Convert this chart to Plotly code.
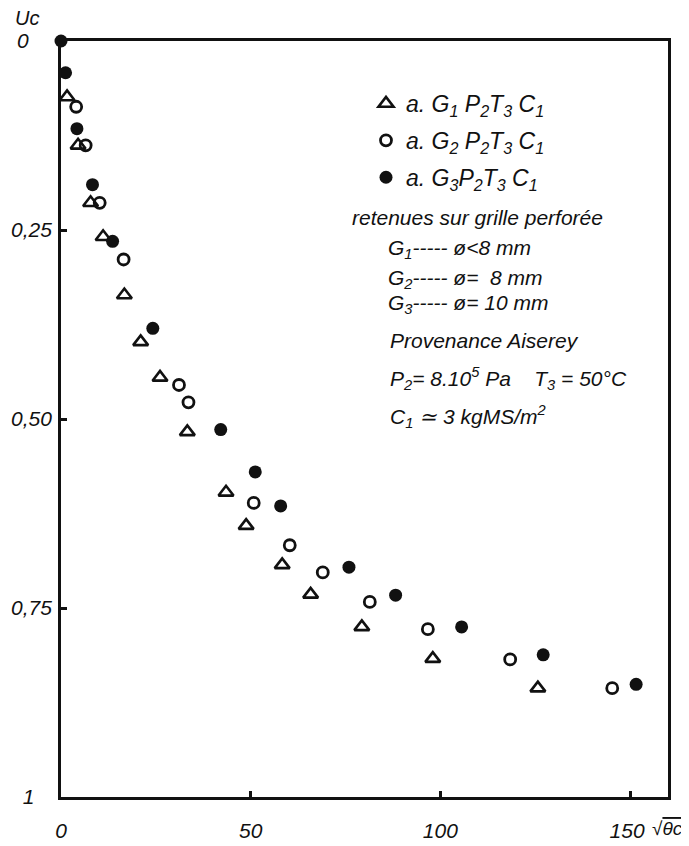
import plotly.graph_objects as go

# Data (x = sqrt(theta_c), y = Uc)
g1_x = [1.6, 4.5, 7.8, 11.1, 16.7, 21.0, 26.1, 33.3, 43.5, 48.8, 58.3, 65.8, 79.3, 98.0, 125.7]
g1_y = [0.074, 0.138, 0.214, 0.259, 0.336, 0.398, 0.445, 0.517, 0.597, 0.641, 0.693, 0.732, 0.775, 0.817, 0.856]

g2_x = [4.0, 6.5, 10.2, 16.5, 31.1, 33.6, 50.8, 60.3, 69.0, 81.4, 96.7, 118.4, 145.3]
g2_y = [0.087, 0.138, 0.214, 0.289, 0.455, 0.478, 0.611, 0.667, 0.703, 0.742, 0.778, 0.818, 0.856]

g3_x = [0, 1.2, 4.2, 8.3, 13.6, 24.2, 42.1, 51.2, 57.9, 75.9, 88.2, 105.6, 127.1, 151.6]
g3_y = [0, 0.042, 0.116, 0.190, 0.265, 0.380, 0.514, 0.570, 0.615, 0.696, 0.733, 0.775, 0.812, 0.851]

series_names = [
    "a. G<sub>1</sub> P<sub>2</sub>T<sub>3</sub> C<sub>1</sub>",
    "a. G<sub>2</sub> P<sub>2</sub>T<sub>3</sub> C<sub>1</sub>",
    "a. G<sub>3</sub>P<sub>2</sub>T<sub>3</sub> C<sub>1</sub>",
]

x_tickvals = [0, 50, 100, 150]
x_ticktext = ["0", "50", "100", "150\u00a0"]
y_tickvals = [0, 0.25, 0.5, 0.75, 1]
y_ticktext = ["0\u00a0\u00a0\u00a0\u00a0", "0,25", "0,50", "0,75", "1\u00a0\u00a0\u00a0"]

FONT = "Liberation Sans, Arial, sans-serif"
INK = "#111111"

fig = go.Figure()
fig.add_trace(go.Scatter(
    x=g1_x, y=g1_y, mode="markers", name=series_names[0], legendgroup="g1",
    marker=dict(symbol="triangle-up-open", size=13, color=INK, line=dict(width=2.6, color=INK)),
    cliponaxis=False,
))
fig.add_trace(go.Scatter(
    x=g2_x, y=g2_y, mode="markers", name=series_names[1], legendgroup="g2",
    marker=dict(symbol="circle-open", size=11, color=INK, line=dict(width=2.8, color=INK)),
    cliponaxis=False,
))
fig.add_trace(go.Scatter(
    x=g3_x, y=g3_y, mode="markers", name=series_names[2], legendgroup="g3",
    marker=dict(symbol="circle", size=13, color=INK, line=dict(width=0)),
    cliponaxis=False,
))

# The page body adds an 8px offset; plot area on screen spans x 61..668, y 41..797
OFF = 8
W, H = 689 - OFF, 846 - OFF
PL, PR, PT, PB = 61, 668, 41, 797          # screen-pixel plot box
L, T = PL - OFF, PT - OFF
R = W - (PR - OFF)
B = H - (PB - OFF)
pw = PR - PL
ph = PB - PT

def px_x(p):
    return (p - PL) / pw

def px_y(p):
    return (PB - p) / ph

text_lines = [
    ("retenues sur grille perforée", 350, 217),
    ("G<sub>1</sub>----- ø&lt;8 mm", 386, 249),
    ("G<sub>2</sub>----- ø= \u00a08 mm", 386, 279),
    ("G<sub>3</sub>----- ø= 10 mm", 386, 304),
    ("Provenance Aiserey", 388, 340),
    ("P<sub>2</sub>= 8.10<sup>5</sup> Pa\u00a0\u00a0\u00a0\u00a0T<sub>3</sub> = 50°C", 388, 378),
    ("C<sub>1</sub> ≃ 3 kgMS/m<sup>2</sup>", 388, 416),
]

annotations = []
for txt, xp, yp in text_lines:
    annotations.append(dict(
        text=txt, xref="paper", yref="paper", x=px_x(xp), y=px_y(yp),
        xanchor="left", yanchor="middle", showarrow=False,
        font=dict(family=FONT, size=21, color=INK, style="italic"),
    ))
annotations.append(dict(
    text="Uc", xref="paper", yref="paper", x=px_x(13), y=px_y(18),
    xanchor="left", yanchor="middle", showarrow=False,
    font=dict(family=FONT, size=20, color=INK, style="italic"),
))
annotations.append(dict(
    text="√<span style='text-decoration:overline'>θc</span>", xref="paper", yref="paper",
    x=px_x(650), y=px_y(828),
    xanchor="left", yanchor="middle", showarrow=False,
    font=dict(family=FONT, size=19, color=INK, style="italic"),
))

fig.update_layout(
    width=W, height=H,
    margin=dict(l=L, r=R, t=T, b=B, pad=0, autoexpand=False),
    paper_bgcolor="white", plot_bgcolor="white",
    font=dict(family=FONT, size=21, color=INK, style="italic"),
    showlegend=True,
    legend=dict(
        x=px_x(366), y=px_y(82), xanchor="left", yanchor="top",
        bgcolor="rgba(0,0,0,0)", borderwidth=0,
        traceorder="grouped", tracegroupgap=4,
        font=dict(family=FONT, size=23, color=INK, style="italic"),
        itemwidth=30,
    ),
    annotations=annotations,
)
fig.update_xaxes(
    range=[0, 160], showgrid=False, zeroline=False, automargin=False,
    showline=True, linecolor=INK, linewidth=2.7, mirror=True,
    ticks="inside", ticklen=6, tickwidth=2.5, tickcolor=INK,
    tickvals=x_tickvals, ticktext=x_ticktext,
    tickfont=dict(family=FONT, size=21, color=INK, style="italic"),
    ticklabelstandoff=13,
)
fig.update_yaxes(
    range=[1, 0], showgrid=False, zeroline=False, automargin=False,
    showline=True, linecolor=INK, linewidth=2.7, mirror=True,
    ticks="inside", ticklen=6, tickwidth=2.5, tickcolor=INK,
    tickvals=y_tickvals, ticktext=y_ticktext,
    tickfont=dict(family=FONT, size=21, color=INK, style="italic"),
    ticklabelstandoff=2,
)

fig.write_html("out.html")
